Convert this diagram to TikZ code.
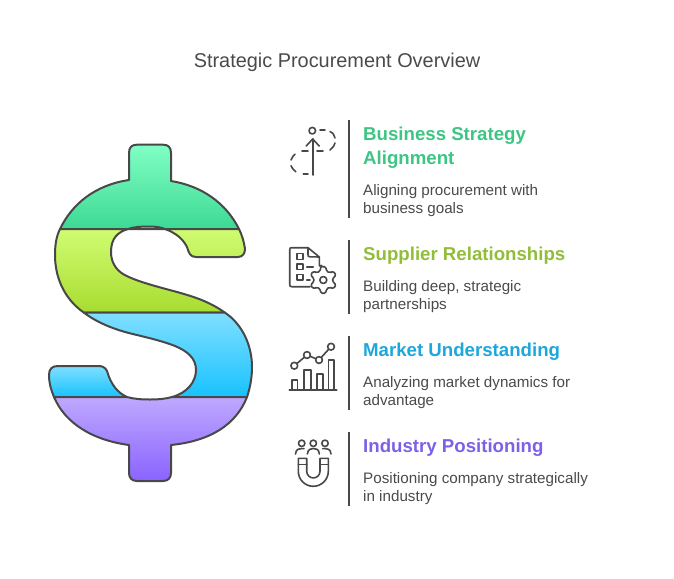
\documentclass[tikz,border=0pt]{standalone}
\usepackage{fontspec}
\setmainfont{Liberation Sans}
\definecolor{ink}{HTML}{484848}
\definecolor{txt}{HTML}{4A4A4A}
\definecolor{hA}{HTML}{3CC583}
\definecolor{hB}{HTML}{92BD39}
\definecolor{hC}{HTML}{1EA7DB}
\definecolor{hD}{HTML}{7C60E8}
\definecolor{aT}{HTML}{80FFC4}
\definecolor{aB}{HTML}{3DD995}
\definecolor{bT}{HTML}{D0FC72}
\definecolor{bB}{HTML}{A8DC30}
\definecolor{cT}{HTML}{80DFFF}
\definecolor{cB}{HTML}{18C2FF}
\definecolor{dT}{HTML}{BFA8FF}
\definecolor{dB}{HTML}{8A63FF}
\tikzset{
 band/.style={draw=ink,line width=2pt,line join=round},
 rule/.style={draw=ink,line width=2pt},
 ico/.style={draw=ink,line width=1.6pt,line cap=round,line join=round},
 title/.style={anchor=base,text=txt,font=\fontsize{19.9}{24}\selectfont,inner sep=0pt},
 head/.style={anchor=base west,font=\fontsize{18.65}{22}\bfseries\selectfont,inner sep=0pt},
 body/.style={anchor=base west,text=txt,font=\fontsize{15.2}{18}\selectfont,inner sep=0pt},
}
\begin{document}
\begin{tikzpicture}[x=1pt,y=-1pt]
\useasboundingbox (0,0) rectangle (674,578);
% dollar bands
\path[band,top color=aT,bottom color=aB]
 (60,229) .. controls (72,204) and (95,185) .. (129,180)
 -- (129,153) .. controls (129,147) and (132,144.7) .. (137,144.7)
 -- (163,144.7) .. controls (168,144.7) and (171,147) .. (171,153)
 -- (171,181) .. controls (202,186) and (226,203) .. (239,229)
 -- (165,229) .. controls (160,227) and (155,226.5) .. (148,226.5)
 .. controls (141,226.5) and (134,227) .. (128,229) -- cycle;
\path[band,top color=bT,bottom color=bB]
 (60,229) .. controls (56,237) and (55,246) .. (55,255)
 .. controls (55,281) and (67,301) .. (84,312.7)
 -- (225,312.7) .. controls (210,302) and (195,297) .. (177,292)
 .. controls (155,286) and (135,281) .. (123,274)
 .. controls (115,269) and (111,261) .. (111,252)
 .. controls (111,238) and (118,232) .. (128,229)
 -- (165,229) .. controls (176,233) and (183,239) .. (187,247)
 .. controls (189,253) and (190,257) .. (196,257)
 -- (238,257) .. controls (243,257) and (245,253) .. (245,249)
 .. controls (244,242) and (242,235) .. (239,229) -- cycle;
\path[band,top color=cT,bottom color=cB]
 (84,312.7) -- (225,312.7)
 .. controls (242,324) and (252,345) .. (252,367)
 .. controls (252,378) and (250,388) .. (247,397)
 -- (172,397) .. controls (187,393) and (196,382) .. (196,370)
 .. controls (196,358) and (187,351) .. (175,346)
 .. controls (160,340) and (140,336) .. (125,332)
 .. controls (108,327) and (95,321) .. (84,312.7) -- cycle;
\path[band,top color=cT,bottom color=cB]
 (127,397) .. controls (118,393) and (111,385) .. (107,371)
 .. controls (105,367) and (102,366) .. (98,366)
 -- (58,366) .. controls (52,366) and (49,369) .. (49,375)
 .. controls (49,383) and (51,390) .. (54,397) -- cycle;
\path[band,top color=dT,bottom color=dB]
 (54,397) .. controls (65,423) and (92,440) .. (129,445)
 -- (129,473) .. controls (129,478) and (132,481) .. (137,481)
 -- (163,481) .. controls (168,481) and (171,478) .. (171,473)
 -- (171,445) .. controls (210,441) and (236,425) .. (247,397)
 -- (172,397) .. controls (165,399) and (158,399.5) .. (150,399.5)
 .. controls (142,399.5) and (134,399) .. (127,397) -- cycle;
% rules
\draw[rule] (349,120) -- (349,218);
\draw[rule] (349,240) -- (349,314);
\draw[rule] (349,336) -- (349,410);
\draw[rule] (349,432) -- (349,506);
% icon 1
\draw[ico] (312.3,130.7) circle (3.3);
\draw[ico] (312.7,175) -- (312.7,139);
\draw[ico] (306.2,146) -- (312.7,139) -- (319.2,146);
\draw[ico] (302,151) -- (308,151) (317,151) -- (323,151);
\draw[ico] (320,129.7) -- (325,129.7);
\draw[ico] (330,131.5) .. controls (333,133) .. (335,138);
\draw[ico] (335,143) .. controls (334,146) .. (330,150);
\draw[ico] (295,154.3) .. controls (293,156) .. (291,160);
\draw[ico] (291,165.7) .. controls (292,168) .. (295.7,171.7);
\draw[ico] (303.3,174) -- (308,174);
% icon 2
\draw[ico] (319.3,266) -- (319.3,257) -- (308,247.7) -- (292,247.7)
 .. controls (290,247.7) .. (289.7,250) -- (289.7,284)
 .. controls (290,286.7) .. (292,286.7) -- (310,286.7);
\draw[ico] (308,247.7) -- (308,254.5) .. controls (308,256.5) .. (310,256.8) -- (319.3,257);
\draw[ico] (296.7,253.3) rectangle (302.7,259.3);
\draw[ico] (296.7,264) rectangle (302.7,269.5);
\draw[ico] (296.7,274.3) rectangle (302.7,280);
\draw[ico] (306.7,266.7) -- (313.3,266.7);
\draw[ico] (306.7,280) -- (310,280);
\draw[ico,rounded corners=1.4pt,shift={(323.3,280)}]
 (-100:13.5) foreach \a in {-90,-30,30,90,150,210} {
   -- (\a-10:13.5) -- (\a+10:13.5) -- (\a+20:9.5) -- (\a+40:9.5) } -- cycle;
\draw[ico] (323.3,280) circle (3.5);
% icon 3
\draw[ico] (289.3,390) -- (336.7,390);
\draw[ico] (291.7,390) -- (291.7,380) -- (297.3,380) -- (297.3,390);
\draw[ico] (304,390) -- (304,370) -- (310.7,370) -- (310.7,390);
\draw[ico] (316.7,390) -- (316.7,374) -- (322.7,374) -- (322.7,390);
\draw[ico] (328.3,390) -- (328.3,360) -- (334,360) -- (334,390);
\draw[ico] (294.3,365.7) -- (307,355) -- (319,360) -- (331,346.7);
\draw[ico,fill=white] (294.3,365.7) circle (3.4) (307,355) circle (3.4) (319,360) circle (3.4) (331,346.7) circle (3.4);
% icon 4
\draw[ico] (301.7,443.3) circle (3.2) (313.3,443.3) circle (3.2) (325,443.3) circle (3.2);
\draw[ico] (307.3,454) .. controls (308,449) and (311,448.5) .. (313.3,448.5) .. controls (316,448.5) and (319,449) .. (319.3,454);
\draw[ico] (295.5,454) .. controls (296,449) and (299,448.5) .. (301.7,448.5) -- (304,448.7);
\draw[ico] (331,454) .. controls (330.5,449) and (327.5,448.5) .. (325,448.5) -- (322.7,448.7);
\draw[ico] (298.3,458.3) -- (298.3,471.3) arc[start angle=180,end angle=0,radius=15] -- (328.3,458.3) -- (320,458.3) -- (320,471.3)
 arc[start angle=0,end angle=180,radius=6.65] -- (306.7,458.3) -- cycle;
\draw[ico] (298.3,464.5) -- (306.7,464.5) (320,464.5) -- (328.3,464.5);
% texts
\node[title] (t0) at (337,67) {Strategic Procurement Overview};
\node[head,text=hA] (h1a) at (363,140) {Business Strategy};
\node[head,text=hA] (h1b) at (363,164) {Alignment};
\node[body] (b1a) at (363,195) {Aligning procurement with};
\node[body] (b1b) at (363,213) {business goals};
\node[head,text=hB] (h2) at (363,260) {Supplier Relationships};
\node[body] (b2a) at (363,291) {Building deep, strategic};
\node[body] (b2b) at (363,309) {partnerships};
\node[head,text=hC] (h3) at (363,356) {Market Understanding};
\node[body] (b3a) at (363,387) {Analyzing market dynamics for};
\node[body] (b3b) at (363,405) {advantage};
\node[head,text=hD] (h4) at (363,452) {Industry Positioning};
\node[body] (b4a) at (363,483) {Positioning company strategically};
\node[body] (b4b) at (363,501) {in industry};
\end{tikzpicture}
\end{document}
